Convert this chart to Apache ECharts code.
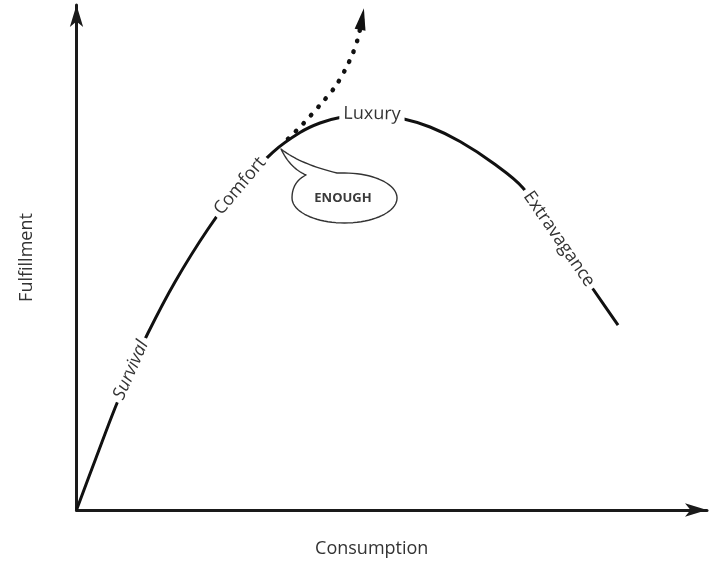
<!DOCTYPE html>
<html><head><meta charset="utf-8">
<script src="https://cdn.jsdelivr.net/npm/echarts@6/dist/echarts.min.js"></script>
<style>html,body{margin:0;padding:0;background:#fff}#c{width:716px;height:563px}</style>
</head><body><div id="c"></div>
<script>
// Main curve: consumption vs fulfillment (arbitrary 0-100 units)
const consumption = [0, 3.09, 6.11, 8.64, 11.34, 15.62, 20.86, 25.93, 31.17, 35.45, 38.62, 41.79, 46.87, 51.62, 56.07, 60.83, 66.06, 70.82, 76.53, 81.92, 85.89];
const fulfillment = [0, 10.30, 20.20, 27.72, 35.05, 45.15, 55.64, 64.16, 70.89, 74.75, 76.63, 77.72, 78.42, 77.52, 75.84, 72.97, 68.71, 63.76, 53.66, 43.76, 36.63];
// Stage labels sit on these curve points
const stageNames = ['Survival', 'Comfort', 'Luxury', 'Extravagance'];
const stageAt = [3, 7, 12, 18];
// Dotted "more is better" branch
const beyondX = [33.54, 35.92, 38.62, 41.00, 42.59, 43.85, 44.65, 45.28];
const beyondY = [73.47, 76.44, 80.20, 83.76, 87.13, 90.50, 93.47, 97.23];
// Callout
const bubbleText = 'ENOUGH';
const bubbleAt = 8;
const axisNames = ['Consumption', 'Fulfillment'];

const FONT = '"Open Sans", "Noto Sans", sans-serif';
const chart = echarts.init(document.getElementById('c'), null, {renderer: 'canvas'});

const curve = consumption.map((x, i) => [x, fulfillment[i]]);
const beyond = beyondX.map((x, i) => [x, beyondY[i]]);
const lastB = beyond.length - 1;

const axisCommon = {
  type: 'value', min: 0, max: 100,
  axisTick: {show: false}, axisLabel: {show: false}, splitLine: {show: false},
  axisLine: {show: true, symbol: ['none', 'arrow'], symbolSize: [10, 22], lineStyle: {color: '#1a1a1a', width: 3}},
  nameLocation: 'middle',
  nameTextStyle: {fontFamily: FONT, fontSize: 18, color: '#333'}
};

chart.setOption({
  animation: false,
  backgroundColor: '#fff',
  grid: {left: 76.5, right: 9, top: 5, bottom: 53, containLabel: false},
  xAxis: Object.assign({}, axisCommon, {
    name: axisNames[0], nameGap: 30,
    nameTextStyle: Object.assign({}, axisCommon.nameTextStyle, {padding: [0, 40, 0, 0]})
  }),
  yAxis: Object.assign({}, axisCommon, {
    name: axisNames[1], nameGap: 41, nameRotate: 90
  }),
  series: [
    {
      type: 'line', data: curve, smooth: 0.35, symbol: 'none', z: 3,
      lineStyle: {color: '#111', width: 3}
    },
    {
      type: 'line', data: beyond, smooth: 0.3, z: 2,
      showSymbol: true,
      symbol: (v, p) => p.dataIndex === lastB ? 'triangle' : 'none',
      symbolSize: (v, p) => p.dataIndex === lastB ? [11, 22] : 0,
      symbolRotate: (v, p) => p.dataIndex === lastB ? -10 : 0,
      itemStyle: {color: '#111'},
      lineStyle: {color: '#111', width: 4.5, type: [0.5, 10.5], cap: 'round'}
    }
  ]
});

const px = (pt) => chart.convertToPixel({gridIndex: 0}, pt);
const graphics = [];
stageNames.forEach((name, k) => {
  const i = stageAt[k];
  const c = px(curve[i]);
  const a = px(curve[i - 1]);
  const b = px(curve[i + 1]);
  const ang = Math.atan2(-(b[1] - a[1]), b[0] - a[0]);
  graphics.push({
    type: 'text', x: c[0], y: c[1], rotation: ang, z: 100,
    style: {
      text: name, fontFamily: FONT, fontSize: 18, fontStyle: name === 'Survival' ? 'italic' : 'normal',
      fill: '#333', align: 'center', verticalAlign: 'middle',
      backgroundColor: '#fff', padding: [0, 4]
    }
  });
});

// speech-bubble outline, sampled from bezier segments (offsets relative to the tail tip area)
function quad(p0, p1, p2, out) {
  for (let t = 0.05; t <= 1.0001; t += 0.05) {
    const u = 1 - t;
    out.push([u*u*p0[0] + 2*u*t*p1[0] + t*t*p2[0], u*u*p0[1] + 2*u*t*p1[1] + t*t*p2[1]]);
  }
}
function cubic(p0, p1, p2, p3, out) {
  for (let t = 0.05; t <= 1.0001; t += 0.05) {
    const u = 1 - t;
    out.push([
      u*u*u*p0[0] + 3*u*u*t*p1[0] + 3*u*t*t*p2[0] + t*t*t*p3[0],
      u*u*u*p0[1] + 3*u*u*t*p1[1] + 3*u*t*t*p2[1] + t*t*t*p3[1]
    ]);
  }
}
const anchor = px(curve[bubbleAt]);
const ox = anchor[0] + 9, oy = anchor[1] - 8;
const pts = [[55, 29]];
quad([55, 29], [18, 20], [-1, 5], pts);
quad([-1, 5], [8, 24], [24, 31], pts);
quad([24, 31], [10, 38], [10, 54], pts);
cubic([10, 54], [10, 67.8], [33.5, 79], [62.5, 79], pts);
cubic([62.5, 79], [91.5, 79], [115, 67.8], [115, 54], pts);
cubic([115, 54], [115, 40.2], [91.5, 29], [62.5, 29], pts);
graphics.push({
  type: 'polygon', x: ox, y: oy, z: 90,
  shape: {points: pts},
  style: {fill: '#fff', stroke: '#333', lineWidth: 1.4, lineJoin: 'round'}
});
graphics.push({
  type: 'text', x: ox + 61, y: oy + 54, z: 100,
  style: {text: bubbleText, fontFamily: FONT, fontSize: 13, fontWeight: 'bold', fill: '#3a3a3a', align: 'center', verticalAlign: 'middle'}
});
chart.setOption({graphic: graphics});
</script>
</body></html>
